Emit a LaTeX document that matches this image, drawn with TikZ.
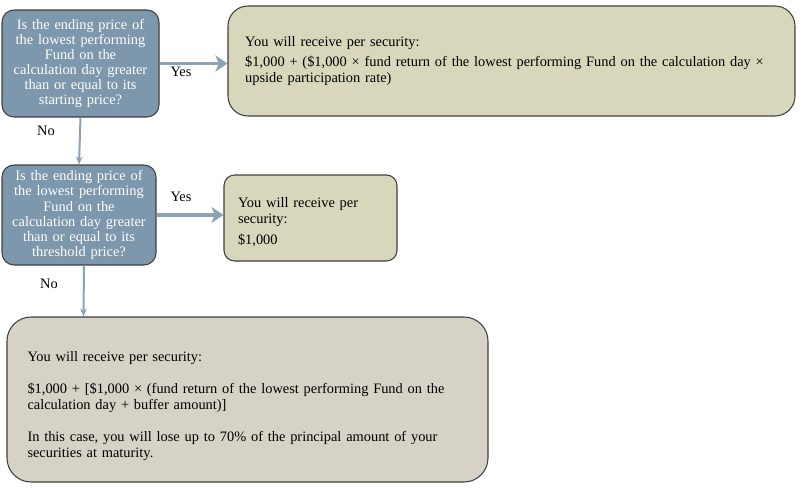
\documentclass[tikz,border=0pt]{standalone}
\usepackage{fontspec}
\setmainfont{Liberation Serif}
\usetikzlibrary{calc,arrows.meta,positioning}
\definecolor{qblue}{HTML}{7D97AC}
\definecolor{payolive}{HTML}{D8D7BC}
\definecolor{paygray}{HTML}{D6D2C5}
\definecolor{flowblue}{HTML}{8CA3B6}

\begin{document}
\begin{tikzpicture}[x=0.75pt,y=-0.75pt,
    question/.style={draw=black!75,line width=0.8pt,fill=qblue,rounded corners=9pt,
      text=white,align=center,inner sep=0pt,text width=114pt,
      font=\fontsize{10.8}{11.3}\selectfont},
    payoff/.style={draw=black!75,line width=0.8pt,align=left,inner ysep=0pt,
      font=\fontsize{10.8}{12}\selectfont},
    flowh/.style={flowblue,line width=2.3pt,-{Stealth[length=9pt,width=12pt,inset=2.5pt]}},
    flowv/.style={flowblue,line width=1.5pt,-{Stealth[length=6pt,width=5pt]}},
    lbl/.style={font=\fontsize{10.8}{11}\selectfont}]
  \useasboundingbox (0,0) rectangle (802,493);
  % questions
  \node[question,minimum width=117.75pt,minimum height=80.25pt] (q1) at (80.5,63.5)
    {Is the ending price of\\the lowest performing\\Fund on the\\calculation day greater\\than or equal to its\\starting price?};
  \node[question,minimum width=115.5pt,minimum height=75pt] (q2) at (79,215)
    {Is the ending price of\\the lowest performing\\Fund on the\\calculation day greater\\than or equal to its\\threshold price?};
  % payoffs
  \node[payoff,fill=payolive,rounded corners=15pt,minimum width=425.25pt,minimum height=82.5pt,
    inner xsep=9pt,text width=407pt] (up) at (511.5,61)
    {\hspace*{3.75pt}You will receive per security:\\[3pt]
     \hspace*{3.75pt}\$1,000 + (\$1,000 × fund return of the lowest performing Fund on the calculation day ×\\
     \hspace*{3.75pt}upside participation rate)};
  \node[payoff,fill=payolive,rounded corners=8pt,minimum width=129.75pt,minimum height=64.5pt,
    inner xsep=10.5pt,text width=108.75pt] (par) at (310.5,218)
    {\rule{0pt}{14pt}You will receive per\\security:\\[4pt]\$1,000};
  \node[payoff,fill=paygray,rounded corners=18pt,minimum width=360.75pt,minimum height=123.75pt,
    inner xsep=15pt,text width=330pt] (down) at (247.5,399.5)
    {\rule{0pt}{18pt}You will receive per security:\\[12pt]
     \$1,000 + [\$1,000 × (fund return of the lowest performing Fund on the\\
     calculation day + buffer amount)]\\[12pt]
     In this case, you will lose up to 70\% of the principal amount of your\\
     securities at maturity.};
  % connectors
  \draw[flowh] (q1.east) -- (up.west |- q1.east);
  \draw[flowh] (q2.east) -- (par.west |- q2.east);
  \draw[flowv] (q1.south) -- (q2.north);
  \draw[flowv] ($(q2.south)+(5,0)$) -- ($(down.north west)+(77,0)$);
  % labels
  \node[lbl] (yes1) at (181,72) {Yes};
  \node[lbl] (yes2) at (181,197) {Yes};
  \node[lbl] (no1) at (46,131) {No};
  \node[lbl] (no2) at (49,284) {No};
\end{tikzpicture}
\end{document}
